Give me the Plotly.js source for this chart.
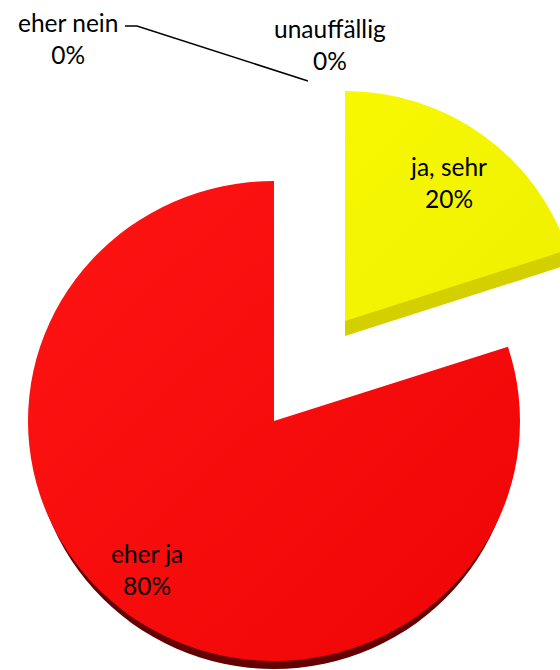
<!DOCTYPE html>
<html>
<head>
<meta charset="utf-8">
<script src="https://cdn.plot.ly/plotly-3.0.1.min.js"></script>
<style>html,body{margin:0;padding:0;background:#fff;overflow:hidden}#chart{width:560px;height:670px}</style>
</head>
<body>
<div id="chart"></div>
<script>
const categories = ["ja, sehr", "eher ja", "eher nein", "unauffällig"];
const percents = [20, 80, 0, 0];
const pulls = [0.5, 0, 0, 0];
const W = 560, H = 670;
const NONE = "rgba(0,0,0,0)";
const yellowSide = "#d4d000", redSide = "#640000";

function pieTrace(colors) {
  return {
    type: "pie", labels: categories, values: percents, pull: pulls,
    sort: false, direction: "clockwise", rotation: 0,
    textinfo: "none", hoverinfo: "label+percent", showlegend: false,
    marker: {colors: colors, line: {width: 0}}
  };
}
const traces = [
  pieTrace([yellowSide, NONE, NONE, NONE]),
  pieTrace([NONE, redSide, NONE, NONE]),
  pieTrace(["#f4f406", NONE, NONE, NONE]),
  pieTrace([NONE, "#f60808", NONE, NONE])
];
const px = x => x / W, py = y => 1 - y / H;
const labelFont = {family: "Lato, 'Open Sans', sans-serif", size: 24.5, color: "#000"};
const labelPos = [[448, 182], [147, 569], [68, 38], [330, 44]];
const annotations = categories.map((c, i) => ({
  text: c + "<br>" + percents[i] + "%", showarrow: false, xref: "paper", yref: "paper",
  x: px(labelPos[i][0]), y: py(labelPos[i][1]), xanchor: "center", yanchor: "middle", align: "center", font: labelFont
}));
const layout = {
  width: W, height: H, margin: {l: 0, r: 0, t: 0, b: 0}, paper_bgcolor: "#fff", showlegend: false,
  annotations: annotations,
  shapes: [{type: "path", xref: "paper", yref: "paper",
    path: `M ${px(125)} ${py(26)} L ${px(137)} ${py(26)} L ${px(308)} ${py(81)}`,
    line: {color: "#000", width: 1.5}, fillcolor: NONE}]
};
Plotly.newPlot("chart", traces, layout, {displayModeBar: false}).then(function (gd) {
  const c0x = W / 2, c0y = H / 2, R = Math.min(W, H) / 2 / (1 + Math.max(...pulls));
  const s36 = Math.sin(Math.PI / 5), c36 = Math.cos(Math.PI / 5);
  const ax = c0x + pulls[0] * R * s36, ay = c0y - pulls[0] * R * c36;
  // [anchor-x in pie, anchor-y in pie, target-x, target-y, radius-x, radius-y]
  const placement = [
    [ax, ay, 345, 336, 234, 230],
    [c0x, c0y, 274, 429, 242, 240],
    [ax, ay, 345, 321, 234, 230],
    [c0x, c0y, 274, 421, 246, 240]
  ];
  const svg = gd.querySelector(".main-svg");
  const NS = "http://www.w3.org/2000/svg";
  const defs = svg.querySelector("defs") || svg.insertBefore(document.createElementNS(NS, "defs"), svg.firstChild);
  function grad(id, a, b) {
    const g = document.createElementNS(NS, "linearGradient");
    g.setAttribute("id", id);
    g.setAttribute("x1", "0"); g.setAttribute("y1", "0"); g.setAttribute("x2", "1"); g.setAttribute("y2", "1");
    [[0, a], [1, b]].forEach(s => {
      const st = document.createElementNS(NS, "stop");
      st.setAttribute("offset", s[0]); st.setAttribute("stop-color", s[1]); g.appendChild(st);
    });
    defs.appendChild(g);
  }
  grad("gy", "#f8f800", "#eef000");
  grad("gr", "#ff1414", "#ef0505");
  const groups = gd.querySelectorAll(".pielayer .trace");
  groups.forEach((g, i) => {
    const p = placement[i], sx = p[4] / R, sy = p[5] / R;
    g.setAttribute("transform", `translate(${p[2]},${p[3]}) scale(${sx},${sy}) translate(${-p[0]},${-p[1]})`);
  });
  const paths = t => groups[t].querySelectorAll("path.surface");
  paths(2)[0].style.fill = "url(#gy)";
  paths(3)[1].style.fill = "url(#gr)";
});
</script>
</body>
</html>
